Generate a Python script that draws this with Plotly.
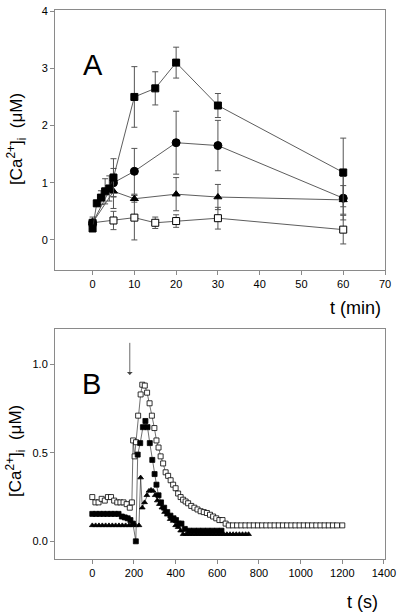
import plotly.graph_objects as go

# ---------------- Panel A data (t in min, [Ca2+]i in uM) ----------------
tA_sq = [0, 1, 2, 3, 4, 5, 10, 15, 20, 30, 60]
ca_sq = [0.20, 0.64, 0.74, 0.85, 0.90, 1.09, 2.50, 2.65, 3.10, 2.35, 1.18]
err_sq = [0.0, 0.05, 0.12, 0.22, 0.22, 0.33, 0.53, 0.29, 0.27, 0.21, 0.60]

tA_circ = [0, 5, 10, 20, 30, 60]
ca_circ = [0.30, 1.00, 1.20, 1.70, 1.65, 0.73]
err_circ = [0.0, 0.25, 0.40, 0.55, 0.44, 0.38]

tA_tri = [0, 5, 10, 20, 30, 60]
ca_tri = [0.30, 0.85, 0.72, 0.80, 0.75, 0.70]
err_tri = [0.0, 0.30, 0.06, 0.29, 0.22, 0.25]

tA_open = [0, 5, 10, 15, 20, 30, 60]
ca_open = [0.30, 0.34, 0.39, 0.30, 0.33, 0.38, 0.18]
err_open = [0.10, 0.16, 0.39, 0.10, 0.11, 0.19, 0.25]

# ---------------- Panel B data (t in s, [Ca2+]i in uM) ----------------
tB_open = [0, 15, 30, 45, 60, 75, 90, 105, 120, 135, 150, 165, 180, 190,
           196, 203, 210, 220, 232, 240, 252, 263, 275, 286, 298, 308, 318,
           328, 340, 352, 364, 376, 388, 400, 412, 424, 436, 448, 460, 475,
           490, 505, 520, 535, 550, 565, 580, 595, 610, 625, 640, 655, 675,
           695, 715, 735, 755, 775, 795, 815, 835, 855, 875, 895, 915, 935,
           955, 975, 995, 1015, 1035, 1055, 1075, 1095, 1115, 1135, 1155,
           1175, 1200]
ca_open_B = [0.25, 0.22, 0.22, 0.24, 0.23, 0.25, 0.25, 0.23, 0.22, 0.22, 0.22,
             0.21, 0.19, 0.22, 0.57, 0.48, 0.56, 0.71, 0.83, 0.885, 0.88, 0.84,
             0.78, 0.71, 0.64, 0.57, 0.53, 0.48, 0.44, 0.39, 0.37, 0.345, 0.32,
             0.30, 0.27, 0.25, 0.235, 0.225, 0.215, 0.20, 0.19, 0.18, 0.17,
             0.165, 0.16, 0.15, 0.14, 0.13, 0.12, 0.12, 0.10, 0.09, 0.09, 0.09,
             0.09, 0.09, 0.09, 0.09, 0.09, 0.09, 0.09, 0.09, 0.09, 0.09, 0.09,
             0.09, 0.09, 0.09, 0.09, 0.09, 0.09, 0.09, 0.09, 0.09, 0.09, 0.09,
             0.09, 0.09, 0.09]

tB_sq = [0, 18, 36, 54, 72, 90, 108, 126, 142, 156, 170, 183, 195, 209, 218,
         230, 243, 255, 265, 276, 288, 299, 308, 318, 330, 345, 360, 375, 390,
         402, 415, 428, 444, 466, 488, 510, 532, 554, 576, 598, 620]
ca_sq_B = [0.155, 0.155, 0.155, 0.155, 0.155, 0.155, 0.155, 0.155, 0.14, 0.135,
           0.13, 0.12, 0.10, 0.0, 0.49, 0.555, 0.645, 0.68, 0.645, 0.555, 0.46,
           0.38, 0.32, 0.26, 0.22, 0.19, 0.165, 0.145, 0.13, 0.12, 0.10, 0.10,
           0.07, 0.06, 0.06, 0.06, 0.06, 0.06, 0.06, 0.06, 0.06]

tB_tri = [0, 16, 32, 48, 64, 80, 96, 112, 128, 144, 160, 176, 192, 208, 224,
          232, 240, 251, 262, 272, 282, 292, 302, 312, 322, 334, 347, 360, 374,
          388, 400, 412, 424, 436, 451, 466, 481, 496, 511, 526, 541, 556, 571,
          586, 601, 616, 631, 646, 661, 676, 691, 706, 721, 736, 750]
ca_tri_B = [0.09, 0.09, 0.09, 0.09, 0.09, 0.09, 0.09, 0.09, 0.09, 0.09, 0.09,
            0.09, 0.09, 0.09, 0.09, 0.36, 0.19, 0.22, 0.26, 0.285, 0.29, 0.285,
            0.26, 0.23, 0.21, 0.19, 0.165, 0.15, 0.125, 0.115, 0.09, 0.08, 0.06,
            0.04, 0.04, 0.04, 0.04, 0.04, 0.04, 0.04, 0.04, 0.04, 0.04, 0.04,
            0.04, 0.04, 0.04, 0.04, 0.04, 0.04, 0.04, 0.04, 0.04, 0.04, 0.04]

arrow_t = 180

xticksA = [0, 10, 20, 30, 40, 50, 60, 70]
yticksA = [0, 1, 2, 3, 4]
xticksB = [0, 200, 400, 600, 800, 1000, 1200, 1400]
yticksB = [0, 0.5, 1.0]
yticksB_text = ["0.0", "0.5", "1.0"]

FONT = "Liberation Sans, Arial, sans-serif"
LINE_C = "#333333"
ERR_C = "#555555"
AX_C = "#8a8a8a"

fig = go.Figure()


def add_a(t, v, e, symbol, size, fill):
    fig.add_trace(go.Scatter(
        x=t, y=v, mode="lines+markers", xaxis="x", yaxis="y",
        line=dict(color=LINE_C, width=0.8),
        marker=dict(symbol=symbol, size=size, color=fill,
                    line=dict(color="black", width=1)),
        error_y=dict(type="data", array=e, visible=True, color=ERR_C,
                     thickness=1, width=3),
        showlegend=False))


add_a(tA_open, ca_open, err_open, "square", 7, "white")
add_a(tA_tri, ca_tri, err_tri, "triangle-up", 7, "black")
add_a(tA_circ, ca_circ, err_circ, "circle", 8, "black")
add_a(tA_sq, ca_sq, err_sq, "square", 7, "black")


def add_b(t, v, symbol, size, fill):
    fig.add_trace(go.Scatter(
        x=t, y=v, mode="lines+markers", xaxis="x2", yaxis="y2",
        line=dict(color=LINE_C, width=0.7),
        marker=dict(symbol=symbol, size=size, color=fill,
                    line=dict(color="black", width=0.8)),
        showlegend=False))


add_b(tB_open, ca_open_B, "square", 5, "white")
add_b(tB_tri, ca_tri_B, "triangle-up", 5, "black")
add_b(tB_sq, ca_sq_B, "square", 5, "black")

axis_common = dict(showline=True, linecolor=AX_C, linewidth=1, mirror=True,
                   ticks="outside", ticklen=4, tickcolor=AX_C, showgrid=False,
                   zeroline=False, ticklabeloverflow="allow",
                   tickfont=dict(family=FONT, size=11, color="black"))

fig.update_layout(
    width=401, height=612,
    margin=dict(l=55, r=16, t=5, b=53),
    paper_bgcolor="white", plot_bgcolor="white",
    font=dict(family=FONT, color="black"),
    xaxis=dict(range=[-9, 70], tickvals=xticksA, anchor="y", domain=[0, 1], **axis_common),
    yaxis=dict(range=[-0.52, 4.02], tickvals=yticksA, anchor="x", domain=[0.527, 1], **axis_common),
    xaxis2=dict(range=[-179, 1405], tickvals=xticksB, anchor="y2", domain=[0, 1], **axis_common),
    yaxis2=dict(range=[-0.1, 1.2], tickvals=yticksB, ticktext=yticksB_text, anchor="x2",
                domain=[0, 0.419], **axis_common),
)

ytitle = "[Ca<sup>2+</sup>]<sub>i</sub>  (μM)"
ann = [
    dict(text="A", x=0.079, y=0.859, xref="x domain", yref="y domain",
         showarrow=False, font=dict(size=29, family=FONT)),
    dict(text="B", x=0.076, y=0.84, xref="x2 domain", yref="y2 domain",
         showarrow=False, font=dict(size=29, family=FONT)),
    dict(text="t (min)", x=0.994, y=0.458, xref="paper", yref="paper",
         xanchor="right", yanchor="middle", showarrow=False, font=dict(size=18, family=FONT)),
    dict(text="t (s)", x=0.985, y=-0.078, xref="paper", yref="paper",
         xanchor="right", yanchor="middle", showarrow=False, font=dict(size=18, family=FONT)),
    dict(text=ytitle, x=-0.118, y=0.765, xref="paper", yref="paper", textangle=-90,
         xanchor="center", yanchor="middle", showarrow=False, font=dict(size=17, family=FONT)),
    dict(text=ytitle, x=-0.118, y=0.197, xref="paper", yref="paper", textangle=-90,
         xanchor="center", yanchor="middle", showarrow=False, font=dict(size=17, family=FONT)),
    dict(text="", x=arrow_t, y=0.94, ax=arrow_t, ay=1.13, xref="x2", yref="y2",
         axref="x2", ayref="y2", showarrow=True, arrowhead=1, arrowsize=1.2,
         arrowwidth=0.8, arrowcolor="#444444"),
]
fig.update_layout(annotations=ann)

fig.write_html("out.html", config={"displayModeBar": False},
               post_script="document.body.style.margin='0px';")
